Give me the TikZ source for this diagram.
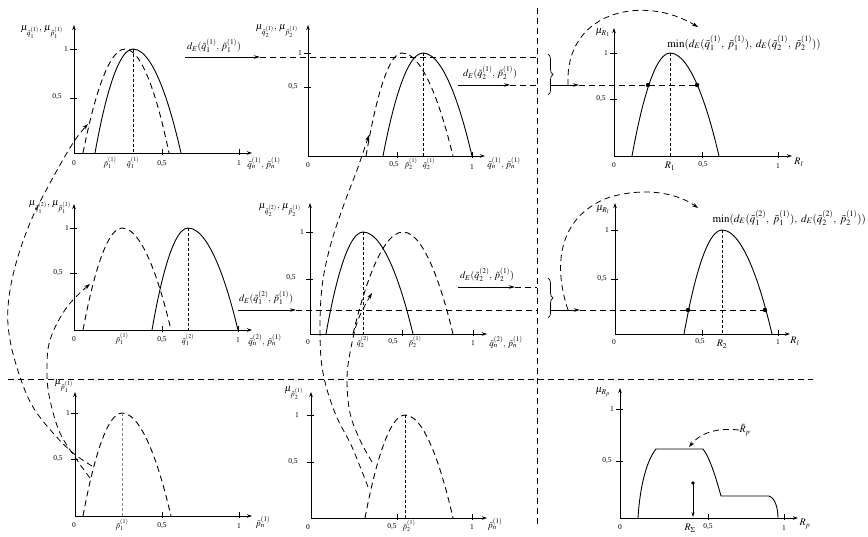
\documentclass[tikz,border=0pt]{standalone}
\usepackage{mathptmx}
\usepackage[no-math]{fontspec}
\setmainfont{Liberation Serif}
\usetikzlibrary{arrows.meta,decorations.pathreplacing}
\newcommand{\myq}[2]{\tilde{q}_{#1}^{(#2)}}
\newcommand{\myp}[2]{\tilde{p}_{#1}^{(#2)}}
\newcommand{\myaxes}[8]{%
  \draw[axis] (#1,#2) -- (#1,#3);
  \draw[axis] (#1,#2) -- (#4,#2);
  \draw[tck] (#1-4,#5) -- (#1+3,#5);
  \draw[tck] (#1-4,#6) -- (#1+3,#6);
  \draw[tck] (#7,#2-4) -- (#7,#2+2);
  \draw[tck] (#8,#2-4) -- (#8,#2+2);
}
\begin{document}
\begin{tikzpicture}[x=1pt,y=-1pt,
  axis/.style={line width=0.9pt,-{Stealth[length=5pt,width=3.5pt]}},
  tck/.style={line width=0.7pt},
  curve/.style={line width=0.9pt},
  dcurve/.style={line width=0.9pt,dash pattern=on 6pt off 4pt},
  guide/.style={line width=0.6pt,dash pattern=on 3pt off 2pt},
  conn/.style={line width=0.8pt,dash pattern=on 6pt off 4pt},
  arr/.style={line width=0.8pt,-{Stealth[length=6pt,width=3.5pt]}},
  carr/.style={line width=0.8pt,dash pattern=on 6pt off 4pt,-{Stealth[length=6pt,width=4pt]}},
  lbl/.style={font=\fontsize{7.5}{8}\selectfont,inner sep=0.5pt},
  tl/.style={font=\fontsize{8}{9}\selectfont,inner sep=0.5pt},
  xl/.style={font=\fontsize{9}{10}\selectfont,inner sep=0.5pt},
  rl/.style={font=\fontsize{10}{11}\selectfont,inner sep=0.5pt},
  mu/.style={font=\fontsize{10}{11}\selectfont,inner sep=0pt},
  dlbl/.style={font=\fontsize{10}{11}\selectfont,inner sep=0pt},
  mlbl/.style={font=\fontsize{11}{12}\selectfont,inner sep=0pt},
]
\useasboundingbox (0,0) rectangle (868,536);

% ---------- separators ----------
\draw[conn] (537,8) -- (537,524);
\draw[conn] (8,379) -- (813,379);

% ---------- Panel 1 ----------
\myaxes{74}{153}{25}{252}{49}{98}{162}{239}
\draw[curve] (95,153) parabola bend (133,49) (181,153);
\draw[dcurve] (83,153) parabola bend (125,49) (169,153);
\draw[guide] (133,49) -- (133,153);
\node[mu] (m1) at (42,32) {$\mu_{\myq{1}{1}},\,\mu_{\myp{1}{1}}$};
\node[lbl] (a1) at (66,49) {1};
\node[lbl] (b1) at (57,97) {0,5};
\node[lbl] (c1) at (74,163) {0};
\node[tl] (d1) at (110,163) {$\myp{1}{1}$};
\node[tl] (e1) at (133,163) {$\myq{1}{1}$};
\node[lbl] (f1) at (162,164) {0,5};
\node[lbl] (g1) at (239,163) {1};
\node[xl] (h1) at (264,163) {$\tilde q_n^{(1)},\,\tilde p_n^{(1)}$};

% ---------- Panel 2 ----------
\myaxes{308}{156}{25}{485}{53}{87}{397}{472}
\draw[dcurve] (366,156) parabola bend (402,53) (453,156);
\draw[curve] (383,156) parabola bend (423,53) (472,156);
\draw[guide] (423,53) -- (423,156);
\node[mu] (m2) at (277,31) {$\mu_{\myq{2}{1}},\,\mu_{\myp{2}{1}}$};
\node[lbl] (a2) at (300,53) {1};
\node[lbl] (b2) at (293,87) {0,5};
\node[lbl] (c2) at (308,165) {0};
\node[lbl] (f2) at (394,165) {0,5};
\node[tl] (d2) at (411,164) {$\myp{2}{1}$};
\node[tl] (e2) at (429,164) {$\myq{2}{1}$};
\node[lbl] (g2) at (472,167) {1};
\node[xl] (h2) at (504,163) {$\tilde q_n^{(1)},\,\tilde p_n^{(1)}$};

% ---------- Panel 3 ----------
\myaxes{614}{156}{28}{792}{53}{99}{702}{778}
\draw[curve] (632,156) parabola bend (670,53) (719,156);
\draw[guide] (670,53) -- (670,156);
\node[mu] (m3) at (603,33) {$\mu_{R_1}$};
\node[lbl] (a3) at (606,53) {1};
\node[lbl] (b3) at (601,99) {0,5};
\node[lbl] (c3) at (614,165) {0};
\node[rl] (r3) at (670,166) {$R_1$};
\node[lbl] (f3) at (703,165) {0,5};
\node[lbl] (g3) at (778,166) {1};
\node[rl] (h3) at (799,162) {$R_l$};
\node[mlbl] (min1) at (744,43) {$\min(d_E(\myq{1}{1},\;\myp{1}{1}),\;d_E(\myq{2}{1},\;\myp{2}{1}))$};

% ---------- Panel 4 ----------
\myaxes{74}{330}{204}{252}{228}{273}{162}{238}
\draw[dcurve] (83,330) parabola bend (122,228) (171,330);
\draw[curve] (152,330) parabola bend (188,228) (238,330);
\draw[guide] (188,228) -- (188,330);
\node[mu] (m4) at (50,207) {$\mu_{\myq{1}{2}},\,\mu_{\myp{1}{1}}$};
\node[lbl] (a4) at (67,228) {1};
\node[lbl] (b4) at (58,273) {0,5};
\node[lbl] (c4) at (74,339) {0};
\node[tl] (d4) at (122,339) {$\myp{1}{1}$};
\node[lbl] (f4) at (162,340) {0,5};
\node[tl] (e4) at (188,340) {$\myq{1}{2}$};
\node[lbl] (g4) at (238,340) {1};
\node[xl] (h4) at (265,340) {$\tilde q_n^{(2)},\,\tilde p_n^{(1)}$};

% ---------- Panel 5 ----------
\myaxes{310}{334}{203}{487}{232}{279}{402}{473}
\draw[curve] (326,334) parabola bend (363,232) (413,334);
\draw[dcurve] (353,334) parabola bend (403,232) (453,334);
\draw[guide] (363,232) -- (363,334);
\node[mu] (m5) at (280,210) {$\mu_{\myq{2}{2}},\,\mu_{\myp{2}{1}}$};
\node[lbl] (a5) at (302,232) {1};
\node[lbl] (b5) at (291,278) {0,5};
\node[lbl] (c5) at (308,342) {0};
\node[tl] (e5) at (363,342) {$\myq{2}{2}$};
\node[lbl] (f5) at (393,342) {0,5};
\node[tl] (d5) at (415,342) {$\myp{2}{1}$};
\node[lbl] (g5) at (473,343) {1};
\node[xl] (h5) at (506,342) {$\tilde q_n^{(2)},\,\tilde p_n^{(1)}$};

% ---------- Panel 6 ----------
\myaxes{615}{334}{203}{790}{230}{279}{702}{778}
\draw[curve] (684,334) parabola bend (722,230) (772,334);
\draw[guide] (722,230) -- (722,334);
\node[mu] (m6) at (603,210) {$\mu_{R_l}$};
\node[lbl] (a6) at (607,230) {1};
\node[lbl] (b6) at (602,279) {0,5};
\node[lbl] (c6) at (614,342) {0};
\node[lbl] (f6) at (700,342) {0,5};
\node[rl] (r6) at (722,344) {$R_2$};
\node[lbl] (g6) at (778,342) {1};
\node[rl] (h6) at (795,341) {$R_l$};
\node[mlbl,anchor=east] (min2) at (866,218) {$\min(d_E(\myq{1}{2},\;\myp{1}{1}),\;d_E(\myq{2}{2},\;\myp{2}{1}))$};

% ---------- Panel 7 ----------
\myaxes{75}{516}{392}{252}{413}{459}{162}{239}
\draw[dcurve] (83,516) parabola bend (122,413) (171,516);
\draw[guide,gray] (122,413) -- (122,516);
\node[mu] (m7) at (64,386) {$\mu_{\myp{1}{1}}$};
\node[lbl] (a7) at (68,413) {1};
\node[lbl] (b7) at (58,459) {0,5};
\node[lbl] (c7) at (74,525) {0};
\node[tl] (d7) at (122,525) {$\myp{1}{1}$};
\node[lbl] (f7) at (162,526) {0,5};
\node[lbl] (g7) at (239,526) {1};
\node[xl] (h7) at (263,522) {$\tilde p_n^{(1)}$};

% ---------- Panel 8 ----------
\myaxes{311}{518}{392}{487}{415}{462}{397}{472}
\draw[dcurve] (365,518) parabola bend (405,415) (453,518);
\draw[guide] (405,415) -- (405,518);
\node[mu] (m8) at (294,393) {$\mu_{\myp{2}{1}}$};
\node[lbl] (a8) at (297,415) {1};
\node[lbl] (b8) at (293,462) {0,5};
\node[lbl] (c8) at (308,527) {0};
\node[lbl] (f8) at (392,527) {0,5};
\node[tl] (d8) at (409,526) {$\myp{2}{1}$};
\node[lbl] (g8) at (472,527) {1};
\node[xl] (h8) at (495,524) {$\tilde p_n^{(1)}$};

% ---------- Panel 9 ----------
\myaxes{620}{518}{388}{798}{409}{461}{708}{784}
\draw[curve] (638,518) .. controls (640,485) and (647,460) .. (656,449) -- (703,449)
  .. controls (710,458) and (716,478) .. (721,496) -- (769,496)
  .. controls (775,498) and (778,508) .. (778,518);
\node[mu] (m9) at (603,392) {$\mu_{R_p}$};
\node[lbl] (a9) at (612,409) {1};
\node[lbl] (b9) at (607,461) {0,5};
\node[lbl] (c9) at (620,527) {0};
\node[rl] (rs) at (690,528) {$R_\Sigma$};
\node[lbl] (f9) at (708,527) {0,5};
\node[lbl] (g9) at (784,528) {1};
\node[rl] (h9) at (805,524) {$R_p$};
\node[rl] (rp) at (745,430) {$\tilde R_p$};
\coordinate (rpt) at (689,447);
\draw[carr] (rp.west) .. controls (712,427) and (698,436) .. (rpt);
\coordinate (rsd) at (693,483);
\coordinate (rsa) at (693,517);
\fill (rsd) circle (1.8);
\draw[line width=0.6pt,-{Stealth[length=5pt,width=3pt]}] (rsd) -- (rsa);

% ---------- d_E arrows, row 1 ----------
\node[dlbl] (de11) at (214,46) {$d_E(\myq{1}{1},\,\myp{1}{1})$};
\draw[arr] (185,57) -- (260,57);
\draw[conn] (260,57) -- (537,57);
\node[dlbl] (de21) at (490,73) {$d_E(\myq{2}{1},\,\myp{2}{1})$};
\draw[arr] (458,85) -- (510,85);
\draw[conn] (510,85) -- (537,85);
\draw[line width=0.7pt,decorate,decoration={brace,amplitude=5pt}] (548,54) -- (548,95);
\draw[arr] (551,85) -- (579,85);
\draw[conn] (579,85) -- (697,85);
\fill (648,85) circle (2.2);
\fill (697,85) circle (2.2);
\draw[carr] (568,85) -- (568,77) .. controls (570,10) and (645,-5) .. (698,27);

% ---------- d_E arrows, row 2 ----------
\node[dlbl] (de12) at (266,298) {$d_E(\myq{1}{2},\,\myp{1}{1})$};
\draw[arr] (238,310) -- (296,310);
\draw[conn] (296,310) -- (537,310);
\node[dlbl] (de22) at (487,275) {$d_E(\myq{2}{2},\,\myp{2}{1})$};
\draw[arr] (458,287) -- (515,287);
\draw[conn] (515,287) -- (537,287);
\draw[line width=0.7pt,decorate,decoration={brace,amplitude=5pt}] (548,278) -- (548,318);
\draw[arr] (551,310) -- (580,310);
\draw[conn] (580,310) -- (765,310);
\fill (688,310) circle (2.2);
\fill (765,310) circle (2.2);
\draw[carr] (568,310) .. controls (552,262) and (560,215) .. (610,197) .. controls (650,186) and (680,195) .. (698,208);

% ---------- curved connectors, left ----------
\draw[carr] plot[smooth,tension=0.6] coordinates {(92,466) (73,453) (53,433) (33,407) (20,377) (10,340) (8,307) (15,267) (30,223) (50,183) (73,143) (88,124)};
\draw[carr] plot[smooth,tension=0.6] coordinates {(90,478) (77,460) (60,433) (50,400) (47,373) (50,340) (67,307) (90,284)};
% ---------- curved connectors, middle ----------
\draw[carr] plot[smooth,tension=0.6] coordinates {(368,487) (352,447) (335,413) (323,373) (320,333) (322,287) (330,247) (343,207) (357,170) (369,135)};
\draw[carr] plot[smooth,tension=0.6] coordinates {(372,462) (360,440) (350,413) (347,380) (350,353) (358,320) (372,293)};
\end{tikzpicture}
\end{document}
